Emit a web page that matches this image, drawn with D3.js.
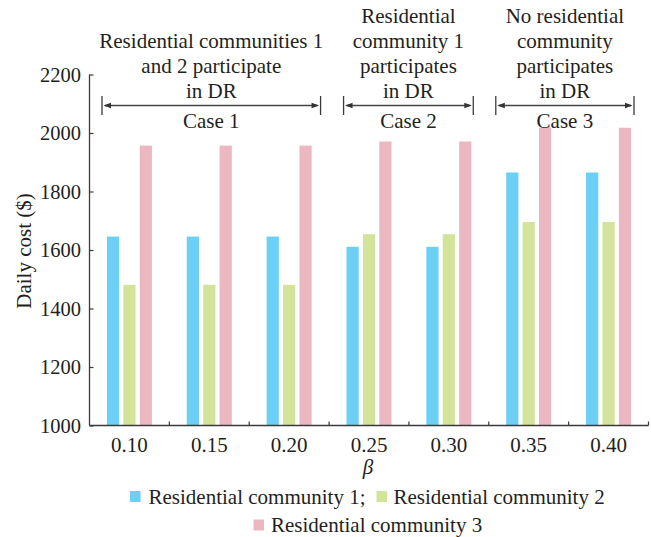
<!DOCTYPE html>
<html>
<head>
<meta charset="utf-8">
<script src="https://cdn.jsdelivr.net/npm/d3@7"></script>
<style>
html,body{margin:0;padding:0;background:#fff;}
svg{display:block;}
svg text{font-family:"Liberation Serif","Times New Roman",serif;}
</style>
</head>
<body>
<svg id="chart" width="651" height="537"></svg>
<script>
// ---- data ----
const categories = ["0.10","0.15","0.20","0.25","0.30","0.35","0.40"];
const seriesNames = ["Residential community 1","Residential community 2","Residential community 3"];
const community1 = [1646,1646,1646,1611,1611,1865,1865];
const community2 = [1481,1481,1481,1654,1654,1696,1696];
const community3 = [1957,1957,1957,1971,1971,2018,2018];
const yTicks = [1000,1200,1400,1600,1800,2000,2200];
const caseLabels = ["Case 1","Case 2","Case 3"];
const caseDescriptions = [
  ["Residential communities 1","and 2 participate","in DR"],
  ["Residential","community 1","participates","in DR"],
  ["No residential","community","participates","in DR"]
];
const caseRanges = [["0.10","0.20"],["0.25","0.30"],["0.35","0.40"]];

// ---- layout ----
const FONT = "Liberation Serif, Times New Roman, serif";
const colors = ["#6ccff5","#d3e39a","#ebb7c3"];
const margin = {left:89.5, right:3, top:74.5, bottom:112};
const svg = d3.select("#chart").attr("font-family", FONT);
const textColor = "#231f20";
const axisColor = "#3a3a3a";

const x = d3.scaleBand().domain(categories).range([margin.left, 648.5]).padding(0);
const y = d3.scaleLinear().domain([1000,2200]).range([425.5, margin.top]);

const series = [community1, community2, community3];
const barW = 12.2, barStep = 16.4;

// bars
series.forEach((vals, si) => {
  svg.append("g").selectAll("rect").data(vals).join("rect")
    .attr("x", (d,i) => x(categories[i]) + x.bandwidth()/2 + (si-1)*barStep - barW/2)
    .attr("y", d => y(d))
    .attr("width", barW)
    .attr("height", d => y(1000) - y(d))
    .attr("fill", colors[si]);
});

// y axis
const yAxis = svg.append("g").attr("transform", `translate(${margin.left},0)`)
  .call(d3.axisLeft(y).tickValues(yTicks).tickSize(-4).tickPadding(8).tickFormat(d3.format("d")))
  .attr("font-family", FONT);
yAxis.select(".domain").attr("d", `M0,${y(1000)}V${y(2200)}`).attr("stroke", axisColor).attr("stroke-width",1.3);
yAxis.selectAll(".tick line").attr("stroke", axisColor).attr("stroke-width",1.2);
yAxis.selectAll(".tick text").attr("font-size", 20.5).attr("fill", textColor)
  .attr("font-family", FONT).attr("dx", -0.5);

// x axis
const xAxis = svg.append("g").attr("transform", `translate(0,${y(1000)})`)
  .call(d3.axisBottom(x).tickSize(0).tickPadding(12))
  .attr("font-family", FONT);
xAxis.select(".domain").attr("d", `M${margin.left},0H${648.5}`).attr("stroke", axisColor).attr("stroke-width",1.3);
xAxis.selectAll(".tick text").attr("font-size", 21).attr("fill", textColor)
  .attr("font-family", FONT).attr("dy","0.71em");
// tick marks at band boundaries (pointing up)
svg.append("g").selectAll("line").data(categories).join("line")
  .attr("x1", d => x(d) + x.bandwidth()).attr("x2", d => x(d) + x.bandwidth())
  .attr("y1", y(1000)).attr("y2", y(1000) - 4)
  .attr("stroke", axisColor).attr("stroke-width",1.2);

// axis titles
svg.append("text").attr("x", 368).attr("y", 474).attr("text-anchor","middle")
  .attr("font-size", 21).attr("font-style","italic").attr("fill", textColor).text("β");
svg.append("text").attr("transform", `translate(31,${(y(1000)+y(2200))/2 + 1}) rotate(-90)`)
  .attr("text-anchor","middle").attr("font-size", 21).attr("fill", textColor).text("Daily cost ($)");

// case annotations
const insets = [[12.5,8.5],[14.5,15.5],[7,14.5]];
caseRanges.forEach((r, ci) => {
  const x0 = x(r[0]) + insets[ci][0];
  const x1 = x(r[1]) + x.bandwidth() - insets[ci][1];
  const yc = 105.5;
  const g = svg.append("g");
  g.append("line").attr("x1", x0).attr("x2", x0).attr("y1", yc-9.5).attr("y2", yc+9.5)
    .attr("stroke", axisColor).attr("stroke-width",1.3);
  g.append("line").attr("x1", x1).attr("x2", x1).attr("y1", yc-9.5).attr("y2", yc+9.5)
    .attr("stroke", axisColor).attr("stroke-width",1.3);
  g.append("line").attr("x1", x0+3).attr("x2", x1-3).attr("y1", yc).attr("y2", yc)
    .attr("stroke", "#444").attr("stroke-width",1.4);
  g.append("path").attr("d", `M${x0+1.5},${yc}L${x0+9},${yc-2.8}L${x0+9},${yc+2.8}Z`).attr("fill","#333");
  g.append("path").attr("d", `M${x1-1.5},${yc}L${x1-9},${yc-2.8}L${x1-9},${yc+2.8}Z`).attr("fill","#333");
  const cx = (x0+x1)/2;
  g.append("text").attr("x", cx).attr("y", 127.5).attr("text-anchor","middle")
    .attr("font-size", 21).attr("fill", textColor).text(caseLabels[ci]);
  const lines = caseDescriptions[ci];
  lines.forEach((ln, li) => {
    g.append("text").attr("x", cx).attr("y", 97.8 - (lines.length-1-li)*24.8)
      .attr("text-anchor","middle").attr("font-size", 21).attr("fill", textColor).text(ln);
  });
});

// legend
const legendItems = [
  {label: seriesNames[0] + ";", sx: 130, tx: 148.5, base: 503.5, c: colors[0]},
  {label: seriesNames[1], sx: 376.5, tx: 393.5, base: 503.5, c: colors[1]},
  {label: seriesNames[2], sx: 253.5, tx: 271, base: 532, c: colors[2]}
];
const lg = svg.append("g");
legendItems.forEach(it => {
  lg.append("rect").attr("x", it.sx).attr("y", it.base-12.5).attr("width", 10.5).attr("height", 11)
    .attr("fill", it.c);
  lg.append("text").attr("x", it.tx).attr("y", it.base).attr("font-size", 21).attr("fill", textColor).text(it.label);
});
</script>
</body>
</html>
